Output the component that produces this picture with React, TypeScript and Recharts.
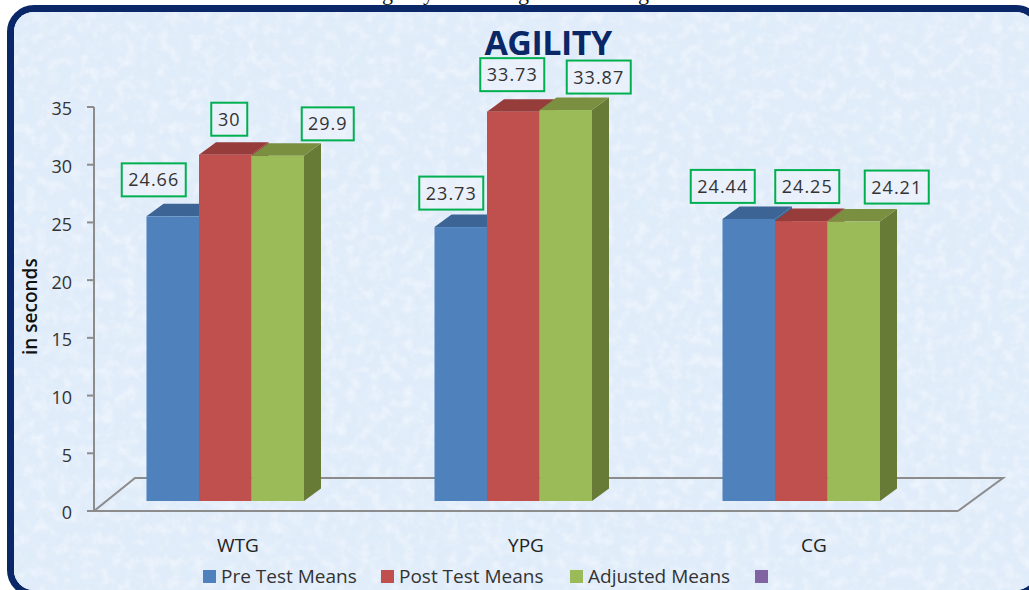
import { BarChart, Bar, XAxis, YAxis, ReferenceArea, Legend, LabelList } from "recharts";

const groups = ["WTG", "YPG", "CG"];
const preTest = [24.66, 23.73, 24.44];
const postTest = [30, 33.73, 24.25];
const adjusted = [29.9, 33.87, 24.21];
const yTicks = [0, 5, 10, 15, 20, 25, 30, 35];

const legendNames = ["Pre Test Means", "Post Test Means", "Adjusted Means", ""];
const legendColors = ["#4f81bd", "#c0504d", "#9bbb59", "#8064a2"];
const legendLefts = [203, 381, 570, 755];

// where each value box sits relative to the top of its bar
const preOffsets = [[-19, -36.5], [-9.5, -34], [-26, -32.5]];
const postOffsets = [[4, -35.5], [-1, -37], [6, -34.5]];
const adjustedOffsets = [[50, -32], [33, -33], [43, -34.5]];

const captionBits = [["g", 382], ["y", 423], ["g", 518], ["g", 638]];

const chartData = groups.map((name, i) => ({
  name,
  pre: preTest[i],
  post: postTest[i],
  adjusted: adjusted[i],
}));

const font = "'Open Sans', sans-serif";
const shiftX = -12.5;
const shiftY = -10;
const depthX = 17;
const depthY = 12.5;

function bar3d(top: string, side: string) {
  return (props: any) => {
    const x = props.x + shiftX;
    const y = props.y + shiftY;
    const { width: w, height: h, fill } = props;
    return (
      <g>
        <path
          d={`M${x + w} ${y}L${x + w + depthX} ${y - depthY}V${y + h - depthY}L${x + w} ${y + h}Z`}
          fill={side}
        />
        <path
          d={`M${x} ${y}L${x + depthX} ${y - depthY}H${x + w + depthX}L${x + w} ${y}Z`}
          fill={top}
        />
        <rect x={x} y={y} width={w} height={h} fill={fill} />
      </g>
    );
  };
}

function valueBox(offsets: number[][]) {
  return (props: any) => {
    const { x, y, width, value, index } = props;
    const text = String(value);
    const w = text.length > 4 ? 64 : text.length > 2 ? 52 : 36;
    const h = 33;
    const cx = x + shiftX + width / 2 + offsets[index][0];
    const cy = y + shiftY + offsets[index][1];
    return (
      <g>
        <rect
          x={cx - w / 2}
          y={cy - h / 2}
          width={w}
          height={h}
          fill="#eef4fc"
          fillOpacity={0.6}
          stroke="#00b050"
          strokeWidth={2}
        />
        <text
          x={cx}
          y={cy + 6.5}
          textAnchor="middle"
          fontFamily={font}
          fontSize={18}
          letterSpacing={1}
          fill="#333"
        >
          {text}
        </text>
      </g>
    );
  };
}

// floor of the 3d plot, back edge sits behind the bars
function Floor(props: any) {
  const left = props.x;
  const right = props.x + props.width;
  const bottom = props.y + props.height;
  return (
    <path
      d={`M${left} ${bottom}L${left + 41} ${bottom - 33}H${right + 45}L${right} ${bottom}`}
      fill="none"
      stroke="#8c8c8c"
      strokeWidth={2}
    />
  );
}

function LegendRow() {
  return (
    <div style={{ position: "relative", width: 1029, height: 24 }}>
      {legendNames.map((name, i) => (
        <div
          key={i}
          style={{
            position: "absolute",
            left: legendLefts[i],
            top: 0,
            display: "flex",
            alignItems: "center",
            height: 24,
          }}
        >
          <span
            style={{
              width: 13,
              height: 13,
              background: legendColors[i],
              marginRight: 5,
            }}
          />
          <span style={{ fontFamily: font, fontSize: 19, color: "#333", whiteSpace: "nowrap" }}>
            {name}
          </span>
        </div>
      ))}
    </div>
  );
}

export default function App() {
  return (
    <div
      style={{
        position: "absolute",
        left: 0,
        top: 0,
        width: 1029,
        height: 590,
        overflow: "hidden",
        background: "#fff",
      }}
    >
      {captionBits.map(([ch, left], i) => (
        <span
          key={i}
          style={{
            position: "absolute",
            left: left as number,
            top: -20,
            fontFamily: "'Liberation Serif', serif",
            fontSize: 22,
            lineHeight: "26px",
            color: "#111",
          }}
        >
          {ch}
        </span>
      ))}
      <div
        style={{
          position: "absolute",
          left: 7,
          top: 5,
          width: 1036,
          height: 592,
          boxSizing: "border-box",
          border: "7px solid #0a2767",
          borderRadius: 27,
          overflow: "hidden",
          background: "#dfebfa",
        }}
      >
        <svg width={1036} height={592} style={{ display: "block" }}>
          <filter id="mottle" x="0" y="0" width="100%" height="100%">
            <feTurbulence type="fractalNoise" baseFrequency="0.022" numOctaves={5} seed={7} />
            <feColorMatrix
              type="matrix"
              values="0 0 0 0 0.74  0 0 0 0 0.84  0 0 0 0 0.95  3 0 0 0 -1.2"
            />
          </filter>
          <filter id="specks" x="0" y="0" width="100%" height="100%">
            <feTurbulence type="fractalNoise" baseFrequency="0.09" numOctaves={3} seed={21} />
            <feColorMatrix
              type="matrix"
              values="0 0 0 0 1  0 0 0 0 1  0 0 0 0 1  0 2.4 0 0 -1"
            />
          </filter>
          <rect width={1036} height={592} fill="#e0ecfa" />
          <rect width={1036} height={592} filter="url(#mottle)" />
          <rect width={1036} height={592} filter="url(#specks)" opacity={0.4} />
        </svg>
      </div>
      <div
        style={{
          position: "absolute",
          left: 348,
          top: 17,
          width: 400,
          textAlign: "center",
          fontFamily: font,
          fontWeight: 700,
          fontSize: 34,
          letterSpacing: -0.5,
          lineHeight: "50px",
          color: "#0a2767",
        }}
      >
        AGILITY
      </div>
      <div style={{ position: "absolute", left: 0, top: 0 }}>
        <BarChart
          width={1029}
          height={590}
          data={chartData}
          margin={{ top: 107, right: 71, left: 34, bottom: 39 }}
          barSize={52.5}
          barGap={0}
        >
          <ReferenceArea y1={0} y2={35} shape={Floor} />
          <XAxis
            dataKey="name"
            height={40}
            axisLine={{ stroke: "#8c8c8c", strokeWidth: 2 }}
            tickLine={false}
            tickMargin={22}
            tick={{ fill: "#222", fontFamily: font, fontSize: 19 }}
          />
          <YAxis
            width={60}
            domain={[0, 35]}
            ticks={yTicks}
            axisLine={{ stroke: "#8c8c8c", strokeWidth: 2 }}
            tickLine={{ stroke: "#8c8c8c", strokeWidth: 2 }}
            tickSize={7}
            tickMargin={15}
            tick={{ fill: "#333", fontFamily: font, fontSize: 18, dy: 2 }}
            label={{
              value: "in seconds",
              angle: -90,
              position: "insideLeft",
              offset: -4,
              dy: 46,
              style: { fontFamily: font, fontSize: 19, fontWeight: 600, fill: "#111" },
            }}
          />
          <Legend
            layout="horizontal"
            verticalAlign="middle"
            wrapperStyle={{ position: "absolute", left: 0, top: 564, width: 1029 }}
            content={LegendRow}
          />
          <Bar dataKey="pre" fill="#4f81bd" shape={bar3d("#3c6494", "#3c6494")} isAnimationActive={false}>
            <LabelList dataKey="pre" content={valueBox(preOffsets)} />
          </Bar>
          <Bar dataKey="post" fill="#c0504d" shape={bar3d("#963d3b", "#963d3b")} isAnimationActive={false}>
            <LabelList dataKey="post" content={valueBox(postOffsets)} />
          </Bar>
          <Bar dataKey="adjusted" fill="#9bbb59" shape={bar3d("#7a8f3f", "#677a36")} isAnimationActive={false}>
            <LabelList dataKey="adjusted" content={valueBox(adjustedOffsets)} />
          </Bar>
        </BarChart>
      </div>
    </div>
  );
}
